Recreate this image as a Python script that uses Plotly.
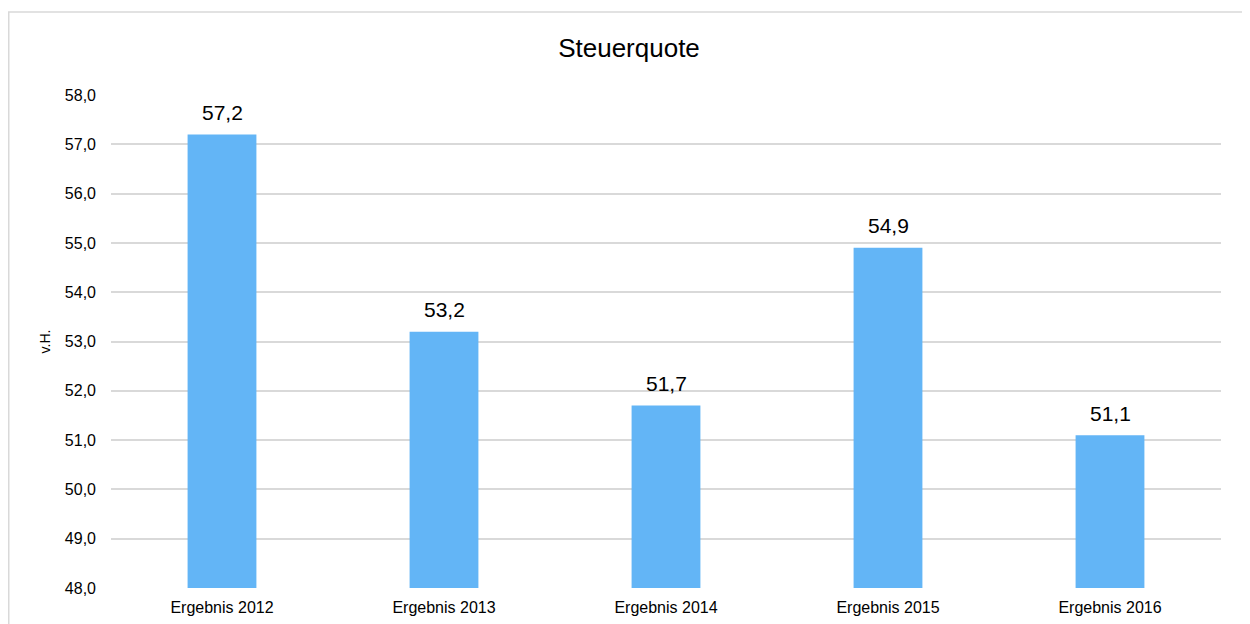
import plotly.graph_objects as go

categories = ["Ergebnis 2012", "Ergebnis 2013", "Ergebnis 2014", "Ergebnis 2015", "Ergebnis 2016"]
values = [57.2, 53.2, 51.7, 54.9, 51.1]
labels = ["57,2", "53,2", "51,7", "54,9", "51,1"]
y_min, y_max = 48, 58

# The page body has an 8px margin, so the figure is drawn 8px smaller
W, H = 1242, 616
L, R, T, B = 103, 29, 87, 36
pw, ph = W - L - R, H - T - B

fig = go.Figure(go.Bar(
    x=categories, y=[v - y_min for v in values], base=y_min,
    marker=dict(color="#63b5f6", line=dict(width=0)),
    width=0.31,
    hoverinfo="skip",
))

for c, v, t in zip(categories, values, labels):
    fig.add_annotation(x=c, y=v, text=t, showarrow=False, yanchor="middle", yshift=22,
                       font=dict(size=21, color="#000000", family="Liberation Sans, Arial"))

fig.update_layout(
    width=W, height=H,
    margin=dict(l=L, r=R, t=T, b=B, autoexpand=False),
    paper_bgcolor="white", plot_bgcolor="white",
    separators=",.",
    font=dict(family="Liberation Sans, Arial", color="#000000"),
    title=dict(text="Steuerquote", x=0.5, xref="container", xanchor="center",
               y=1 - 40 / H, yanchor="middle",
               font=dict(size=26, color="#000000")),
    showlegend=False,
    xaxis=dict(showgrid=False, showline=False, ticks="", tickfont=dict(size=16),
               ticklabelstandoff=8, automargin=False),
    yaxis=dict(range=[y_min, y_max], dtick=1, tickformat=".1f", showgrid=True,
               gridcolor="#d9d9d9", gridwidth=1.5, zeroline=False,
               tickfont=dict(size=16), ticklabelstandoff=14, automargin=False,
               title=dict(text="v.H.", font=dict(size=14), standoff=10)),
    shapes=[dict(type="rect", xref="paper", yref="paper",
                 x0=(0.75 - L) / pw, x1=(1241 - L) / pw,
                 y0=(H - 4 - B) / ph, y1=-B / ph - 0.05,
                 line=dict(color="#d9d9d9", width=1.5), layer="below")],
)

fig.write_html("out.html")
